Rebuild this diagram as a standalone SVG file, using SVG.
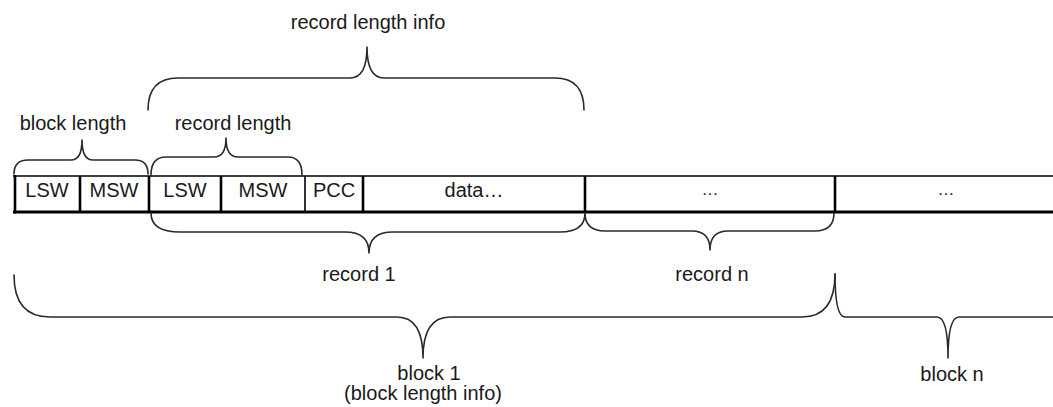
<svg xmlns="http://www.w3.org/2000/svg" width="1053" height="407" viewBox="0 0 1053 407">
<style>
  text { font-family: "Liberation Sans", Arial, sans-serif; font-size: 20px; fill: #1a1a1a; text-anchor: middle; }
  .brace { fill: none; stroke: #2a2a2a; stroke-width: 1.6; stroke-linejoin: round; stroke-linecap: round; }
  .div { stroke: #000; stroke-width: 2.6; }
  .thin { stroke: #000; stroke-width: 1.6; }
</style>
<rect x="0" y="0" width="1053" height="407" fill="#fff"/>

<!-- bar outline -->
<g id="bar">
  <line class="thin" x1="13" y1="176" x2="1053" y2="176"/>
  <line x1="13" y1="212" x2="1053" y2="212" stroke="#000" stroke-width="3.2"/>
  <line class="div" x1="15" y1="175" x2="15" y2="213.5"/>
</g>
<g id="cell-lsw1">
  <line class="div" x1="80" y1="176" x2="80" y2="212"/>
  <text x="47" y="197">LSW</text>
</g>
<g id="cell-msw1">
  <line class="div" x1="149" y1="176" x2="149" y2="212"/>
  <text x="114" y="197">MSW</text>
</g>
<g id="cell-lsw2">
  <line class="div" x1="221" y1="176" x2="221" y2="212"/>
  <text x="185" y="197">LSW</text>
</g>
<g id="cell-msw2">
  <line class="thin" x1="305" y1="176" x2="305" y2="212"/>
  <text x="263" y="197">MSW</text>
</g>
<g id="cell-pcc">
  <line class="div" x1="363" y1="176" x2="363" y2="212"/>
  <text x="334" y="197">PCC</text>
</g>
<g id="cell-data">
  <line class="div" x1="585" y1="176" x2="585" y2="212"/>
  <text x="474" y="197">data…</text>
</g>
<g id="cell-recn">
  <line class="div" x1="835" y1="176" x2="835" y2="212"/>
  <text x="710" y="195" style="font-size:17px">…</text>
</g>
<g id="cell-blkn">
  <text x="946" y="195" style="font-size:17px">…</text>
</g>

<g id="connectors">
  <!-- record length info -->
  <path class="brace" d="M148,110 Q148,78 178,78 L350,78 Q367,78 367,47 Q367,78 384,78 L555,78 Q584,78 584,110"/>
  <!-- block length -->
  <path class="brace" d="M14,174 Q14,160 28,160 L71,160 Q82,160 82,140 Q82,160 93,160 L135,160 Q148,160 148,174"/>
  <!-- record length -->
  <path class="brace" d="M151,175 Q151,157 166,157 L214,157 Q226,157 226,138 Q226,157 238,157 L288,157 Q302,157 302,175"/>
  <!-- record 1 -->
  <path class="brace" d="M151,213 Q151,232 180,232 L345,232 Q369,232 369,253 Q369,232 393,232 L560,232 Q585,232 585,213"/>
  <!-- record n -->
  <path class="brace" d="M585,213 Q585,231 605,231 L692,231 Q710,231 710,250 Q710,231 728,231 L815,231 Q834,231 834,213"/>
  <!-- block 1 -->
  <path class="brace" d="M14,275 Q14,317 50,317 L397,317 Q423,317 423,358 Q423,317 450,317 L802,317 Q835,317 835,274"/>
  <!-- block n -->
  <path class="brace" d="M835,274 Q835,317 845,317 L937,317 Q948,317 948,358 Q948,317 959,317 L1053,317"/>
</g>

<g id="labels">
  <text x="368" y="29">record length info</text>
  <text x="73" y="130">block length</text>
  <text x="233" y="130">record length</text>
  <text x="359" y="281">record 1</text>
  <text x="712" y="281">record n</text>
  <text x="429" y="380">block 1</text>
  <text x="423" y="400">(block length info)</text>
  <text x="952" y="381">block n</text>
</g>
</svg>
